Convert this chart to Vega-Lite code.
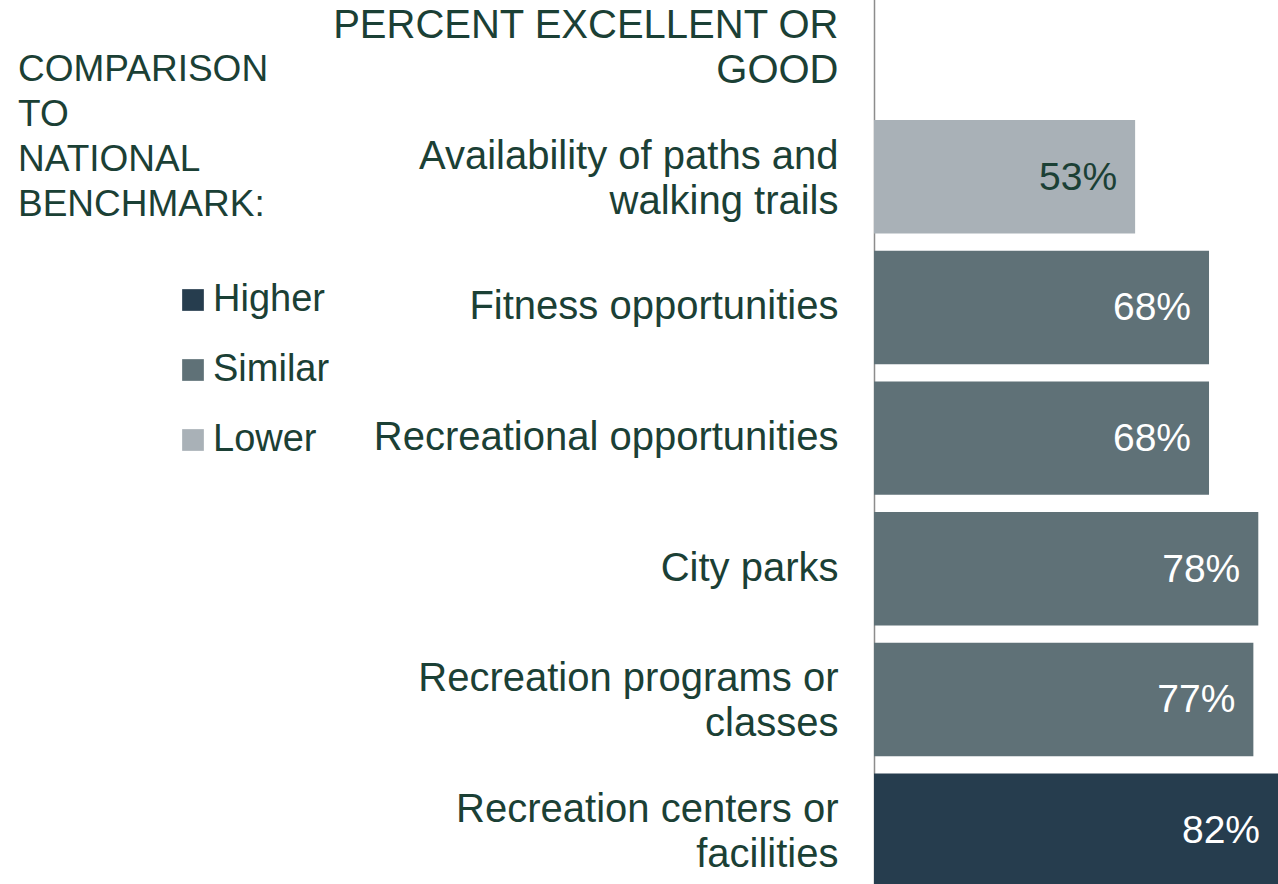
{
  "$schema": "https://vega.github.io/schema/vega-lite/v6.json",
  "autosize": {"type": "none"},
  "width": 404,
  "height": 884,
  "padding": {"left": 874, "top": 0, "right": 0, "bottom": 0},
  "background": "white",
  "config": {
    "view": {"stroke": null},
    "font": "Liberation Sans"
  },
  "data": {
    "values": [
      {"item": "Availability of paths and|walking trails", "pct": 0.53, "comparison": "Lower"},
      {"item": "Fitness opportunities", "pct": 0.68, "comparison": "Similar"},
      {"item": "Recreational opportunities", "pct": 0.68, "comparison": "Similar"},
      {"item": "City parks", "pct": 0.78, "comparison": "Similar"},
      {"item": "Recreation programs or|classes", "pct": 0.77, "comparison": "Similar"},
      {"item": "Recreation centers or|facilities", "pct": 0.82, "comparison": "Higher"}
    ]
  },
  "encoding": {
    "y": {
      "field": "item",
      "type": "nominal",
      "scale": {
        "domain": [
          "PERCENT EXCELLENT OR|GOOD",
          "Availability of paths and|walking trails",
          "Fitness opportunities",
          "Recreational opportunities",
          "City parks",
          "Recreation programs or|classes",
          "Recreation centers or|facilities"
        ],
        "range": [-10.7, 886.9],
        "paddingInner": 0.132,
        "paddingOuter": 0
      },
      "axis": {
        "title": null,
        "ticks": false,
        "labelPadding": 36,
        "labelFontSize": 40,
        "labelLineHeight": 45,
        "labelColor": "#1b4035",
        "labelFont": "Liberation Sans",
        "labelLimit": 700,
        "labelOverlap": false,
        "labelExpr": "split(datum.label, '|')",
        "labelOffset": {"condition": {"test": "indexof(datum.value, '|') >= 0", "value": -20}, "value": 0},
        "domainColor": "#8c8c8c",
        "domainWidth": 1.5,
        "grid": false
      }
    },
    "x": {
      "field": "pct",
      "type": "quantitative",
      "scale": {"domain": [0, 0.82], "nice": false},
      "axis": null
    }
  },
  "layer": [
    {
      "mark": {"type": "bar"},
      "encoding": {
        "color": {
          "field": "comparison",
          "type": "nominal",
          "scale": {
            "domain": ["Higher", "Similar", "Lower"],
            "range": ["#263d4e", "#5f7177", "#a9b1b7"]
          },
          "legend": {
            "orient": "none",
            "legendX": -856,
            "legendY": 52,
            "direction": "vertical",
            "padding": 0,
            "title": ["COMPARISON", "TO", "NATIONAL", "BENCHMARK:"],
            "titleFont": "Liberation Sans",
            "titleFontSize": 37,
            "titleFontWeight": "normal",
            "titleLineHeight": 45,
            "titleColor": "#1b4035",
            "titleLimit": 500,
            "titleAnchor": "start",
            "titleAlign": "left",
            "titlePadding": 57,
            "symbolType": "square",
            "symbolSize": 471,
            "symbolStrokeWidth": 0,
            "symbolOpacity": 1,
            "symbolOffset": 156,
            "labelOffset": 1,
            "labelFont": "Liberation Sans",
            "labelFontSize": 38,
            "labelColor": "#1b4035",
            "labelLimit": 400,
            "rowPadding": 32
          }
        }
      }
    },
    {
      "mark": {"type": "text", "align": "right", "baseline": "middle", "dx": -18, "dy": 1, "fontSize": 39, "font": "Liberation Sans"},
      "encoding": {
        "text": {"field": "pct", "type": "quantitative", "format": ".0%"},
        "color": {
          "condition": {"test": "datum.comparison === 'Lower'", "value": "#1b4035"},
          "value": "#ffffff"
        }
      }
    }
  ]
}
